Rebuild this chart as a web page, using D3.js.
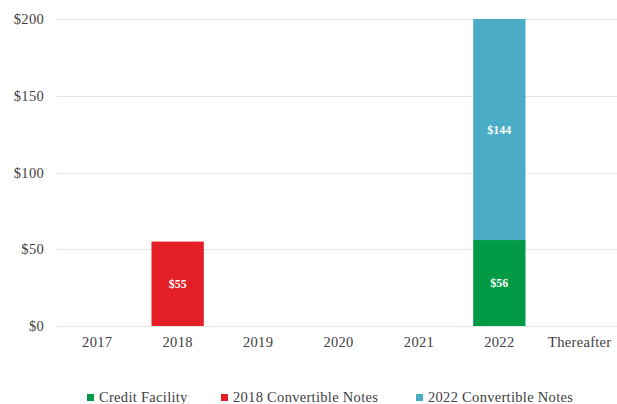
<!DOCTYPE html>
<html>
<head>
<meta charset="utf-8">
<script src="https://cdn.jsdelivr.net/npm/d3@7"></script>
<style>
  body { margin: 0; background: #fff; }
  text { font-family: "Liberation Serif", "DejaVu Serif", serif; }
</style>
</head>
<body>
<script>
var years = ["2017", "2018", "2019", "2020", "2021", "2022", "Thereafter"];
var series_names = ["Credit Facility", "2018 Convertible Notes", "2022 Convertible Notes"];
var series_colors = ["#009a44", "#e31e25", "#4bacc6"];
var credit_facility = [0, 0, 0, 0, 0, 56, 0];
var notes_2018 = [0, 55, 0, 0, 0, 0, 0];
var notes_2022 = [0, 0, 0, 0, 0, 144, 0];
var y_ticks = [0, 50, 100, 150, 200];

var width = 617, height = 404;
var font = '"Liberation Serif", serif';

var svg = d3.select('body')
    .append('svg')
    .attr('width', width)
    .attr('height', height);

var x = d3.scaleBand()
    .domain(years)
    .range([57, 620])
    .paddingInner(0.35)
    .paddingOuter(0.175);

var y = d3.scaleLinear()
    .domain([0, 200])
    .range([326, 19]);

// grid lines
svg.append('g')
    .selectAll('line')
    .data(y_ticks)
    .enter()
    .append('line')
    .attr('x1', 57)
    .attr('x2', 617)
    .attr('y1', function(d) { return Math.round(y(d)) + 0.5; })
    .attr('y2', function(d) { return Math.round(y(d)) + 0.5; })
    .attr('stroke', '#e6e6e6')
    .attr('stroke-width', 1);

// y labels
var yaxis = svg.append('g')
    .attr('transform', 'translate(44, 0)')
    .call(d3.axisLeft(y).tickValues(y_ticks).tickSize(0).tickPadding(0)
        .tickFormat(function(d) { return '$' + d; }));
yaxis.select('.domain').remove();
yaxis.selectAll('text')
    .style('font-family', font)
    .style('font-size', '14.5px')
    .style('letter-spacing', '0.3px')
    .attr('fill', '#404040');

// x labels
var xaxis = svg.append('g')
    .attr('transform', 'translate(0, 337)')
    .call(d3.axisBottom(x).tickSize(0).tickPadding(0));
xaxis.select('.domain').remove();
xaxis.selectAll('text')
    .style('font-family', font)
    .style('font-size', '14.5px')
    .style('letter-spacing', '0.3px')
    .attr('fill', '#404040');

// stacked bars
var rows = years.map(function(yr, i) {
    return { year: yr, cf: credit_facility[i], n18: notes_2018[i], n22: notes_2022[i] };
});
var stack = d3.stack().keys(['cf', 'n18', 'n22'])(rows);

var layers = svg.append('g')
    .selectAll('g')
    .data(stack)
    .enter()
    .append('g')
    .attr('fill', function(d, i) { return series_colors[i]; });

layers.selectAll('rect')
    .data(function(d) { return d.filter(function(p) { return p[1] - p[0] > 0; }); })
    .enter()
    .append('rect')
    .attr('x', function(d) { return x(d.data.year); })
    .attr('width', x.bandwidth())
    .attr('y', function(d) { return y(d[1]); })
    .attr('height', function(d) { return y(d[0]) - y(d[1]); });

layers.selectAll('text')
    .data(function(d) { return d.filter(function(p) { return p[1] - p[0] > 0; }); })
    .enter()
    .append('text')
    .attr('x', function(d) { return x(d.data.year) + x.bandwidth() / 2; })
    .attr('y', function(d) { return (y(d[0]) + y(d[1])) / 2 + 4; })
    .attr('text-anchor', 'middle')
    .attr('fill', '#fff')
    .style('font-size', '12px')
    .style('font-weight', 'bold')
    .text(function(d) { return '$' + (d[1] - d[0]); });

// legend
var legend_x = [87, 221, 416];
var legend = svg.append('g')
    .selectAll('g')
    .data(series_names)
    .enter()
    .append('g')
    .attr('transform', function(d, i) { return 'translate(' + legend_x[i] + ', 394)'; });

legend.append('rect')
    .attr('width', 7)
    .attr('height', 7)
    .attr('fill', function(d, i) { return series_colors[i]; });

legend.append('text')
    .attr('x', 12)
    .attr('y', 8)
    .attr('fill', '#404040')
    .style('font-size', '14.5px')
    .style('letter-spacing', '0.3px')
    .text(function(d) { return d; });
</script>
</body>
</html>
